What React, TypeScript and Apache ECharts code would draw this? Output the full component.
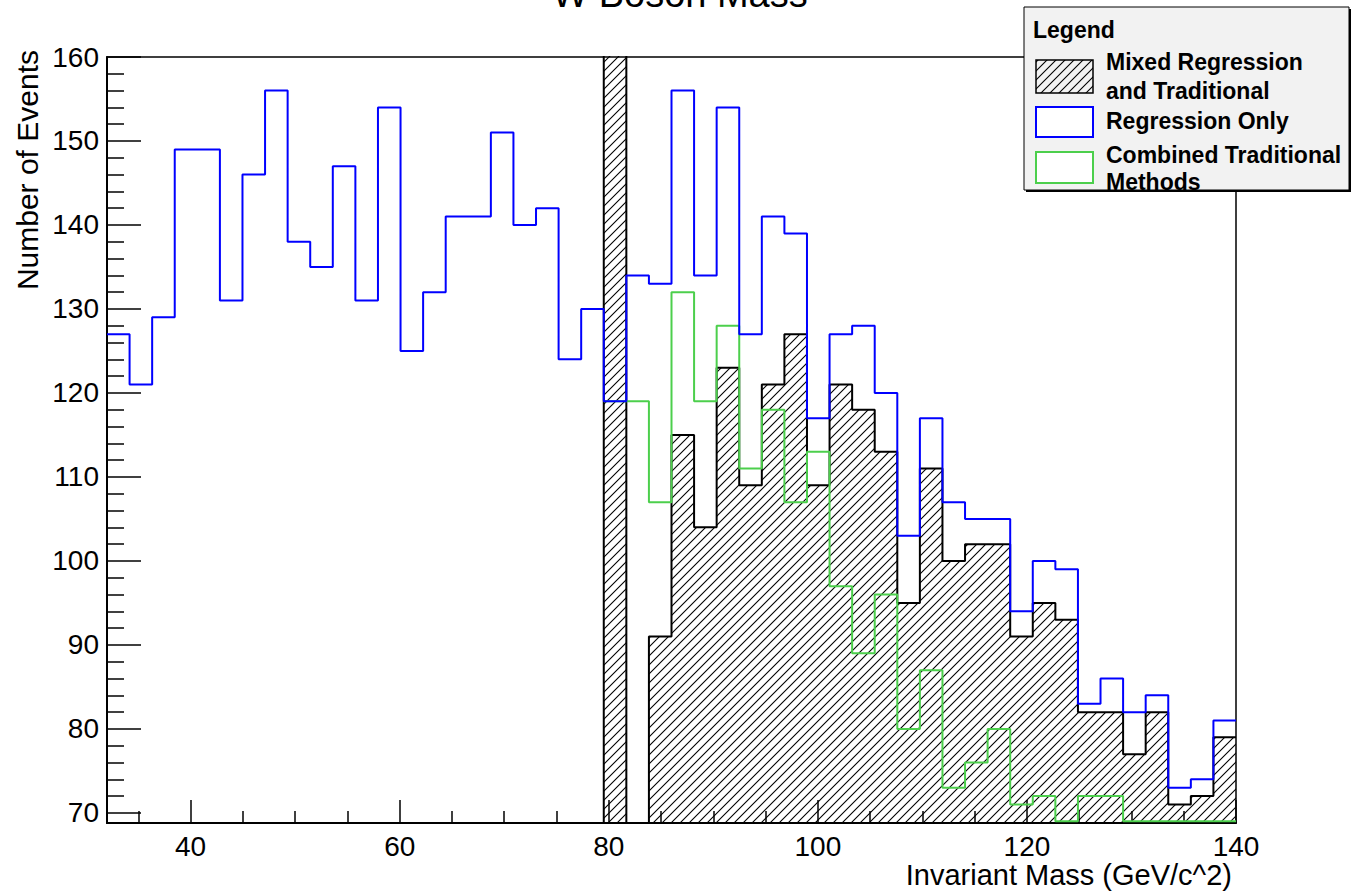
import React, { useEffect, useRef } from "react";
import * as echarts from "echarts";

// Histogram binning (50 bins from 32 to 140 GeV/c^2)
const X_MIN = 32;
const X_MAX = 140;
const N_BINS = 50;
const Y_MIN = 68.8;
const Y_MAX = 160;

// Bin contents
const mixedRegressionTraditional: number[] = [
  0, 0, 0, 0, 0, 0, 0, 0, 0, 0,
  0, 0, 0, 0, 0, 0, 0, 0, 0, 0,
  0, 0, 320, 0, 91, 115, 104, 123, 109, 121,
  127, 109, 121, 118, 113, 95, 111, 100, 102, 102,
  91, 95, 93, 82, 82, 77, 82, 71, 72, 79,
];

const regressionOnly: number[] = [
  127, 121, 129, 149, 149, 131, 146, 156, 138, 135,
  147, 131, 154, 125, 132, 141, 141, 151, 140, 142,
  124, 130, 119, 134, 133, 156, 134, 154, 127, 141,
  139, 117, 127, 128, 120, 103, 117, 107, 105, 105,
  94, 100, 99, 83, 86, 82, 84, 73, 74, 81,
];

const combinedTraditional: (number | null)[] = [
  null, null, null, null, null, null, null, null, null, null,
  null, null, null, null, null, null, null, null, null, null,
  null, null, 119, 119, 107, 132, 119, 128, 111, 118,
  107, 113, 97, 89, 96, 80, 87, 73, 76, 80,
  71, 72, 69, 72, 72, 69, 69, 69, 69, 69,
];

// Tick values
const xMajorTicks = [40, 60, 80, 100, 120, 140];
const xMinorTicks = [35, 45, 50, 55, 65, 70, 75, 85, 90, 95, 105, 110, 115, 125, 130, 135];
const yMajorTicks = [70, 80, 90, 100, 110, 120, 130, 140, 150, 160];
const yMinorTicks = [
  72, 74, 76, 78, 82, 84, 86, 88, 92, 94, 96, 98, 102, 104, 106, 108,
  112, 114, 116, 118, 122, 124, 126, 128, 132, 134, 136, 138, 142, 144,
  146, 148, 152, 154, 156, 158,
];

const TITLE = "W Boson Mass";
const X_TITLE = "Invariant Mass (GeV/c^2)";
const Y_TITLE = "Number of Events";
const LEGEND_TITLE = "Legend";

const BLUE = "#0000ff";
const GREEN = "#4ccf4c";
const FONT = "'Liberation Sans', Arial, Helvetica, sans-serif";

function stepData(values: (number | null)[]) {
  const bw = (X_MAX - X_MIN) / N_BINS;
  const pts: [number, number][] = [];
  let last: number | null = null;
  values.forEach((v, i) => {
    if (v === null) return;
    pts.push([X_MIN + i * bw, v]);
    last = v;
  });
  if (last !== null) pts.push([X_MAX, last]);
  return pts;
}

function makeHatch() {
  const size = 9;
  const c = document.createElement("canvas");
  c.width = size;
  c.height = size;
  const ctx = c.getContext("2d")!;
  ctx.strokeStyle = "#000";
  ctx.lineWidth = 1.1;
  ctx.beginPath();
  ctx.moveTo(-1, size + 1);
  ctx.lineTo(size + 1, -1);
  ctx.moveTo(-1, 1);
  ctx.lineTo(1, -1);
  ctx.moveTo(size - 1, size + 1);
  ctx.lineTo(size + 1, size - 1);
  ctx.stroke();
  return { image: c, repeat: "repeat", imageWidth: size, imageHeight: size } as any;
}

function txt(text: string, x: number, y: number, font: string, align = "left", extra: any = {}) {
  return {
    type: "text",
    x,
    y,
    z: 100,
    ...extra,
    style: {
      text,
      font,
      fill: "#000",
      textAlign: align,
      textVerticalAlign: "middle",
    },
  };
}

export default function App() {
  const ref = useRef<HTMLDivElement>(null);

  useEffect(() => {
    if (!ref.current) return;
    const chart = echarts.init(ref.current, null, { renderer: "svg" });
    const hatch = makeHatch();
    const hatch2 = makeHatch();

    const option: any = {
      animation: false,
      backgroundColor: "#ffffff",
      grid: {
        left: 107,
        top: 57,
        width: 1129,
        height: 766,
        show: true,
        borderColor: "#000",
        borderWidth: 1.5,
        backgroundColor: "transparent",
      },
      xAxis: [
        {
          type: "value",
          min: X_MIN,
          max: X_MAX,
          position: "bottom",
          axisLine: { show: true, onZero: false, lineStyle: { color: "#000", width: 2 } },
          axisTick: {
            show: true,
            inside: true,
            length: 23,
            customValues: xMajorTicks,
            lineStyle: { color: "#000", width: 1.5 },
          },
          axisLabel: {
            show: true,
            customValues: xMajorTicks,
            fontSize: 28,
            lineHeight: 28,
            fontFamily: FONT,
            color: "#000",
            margin: 9,
          },
          splitLine: { show: false },
        },
        {
          type: "value",
          min: X_MIN,
          max: X_MAX,
          position: "bottom",
          axisLine: { show: false },
          axisTick: {
            show: true,
            inside: true,
            length: 12,
            customValues: xMinorTicks,
            lineStyle: { color: "#000", width: 1.5 },
          },
          axisLabel: { show: false },
          splitLine: { show: false },
        },
      ],
      yAxis: [
        {
          type: "value",
          min: Y_MIN,
          max: Y_MAX,
          position: "left",
          axisLine: { show: true, onZero: false, lineStyle: { color: "#000", width: 2 } },
          axisTick: {
            show: true,
            inside: true,
            length: 34,
            customValues: yMajorTicks,
            lineStyle: { color: "#000", width: 1.5 },
          },
          axisLabel: {
            show: true,
            customValues: yMajorTicks,
            fontSize: 28,
            lineHeight: 28,
            fontFamily: FONT,
            color: "#000",
            margin: 8,
          },
          splitLine: { show: false },
        },
        {
          type: "value",
          min: Y_MIN,
          max: Y_MAX,
          position: "left",
          axisLine: { show: false },
          axisTick: {
            show: true,
            inside: true,
            length: 17,
            customValues: yMinorTicks,
            lineStyle: { color: "#000", width: 1.5 },
          },
          axisLabel: { show: false },
          splitLine: { show: false },
        },
      ],
      series: [
        {
          name: "Mixed Regression and Traditional",
          type: "line",
          step: "end",
          symbol: "none",
          silent: true,
          clip: true,
          xAxisIndex: 0,
          yAxisIndex: 0,
          data: stepData(mixedRegressionTraditional),
          lineStyle: { color: "#000", width: 2 },
          areaStyle: { color: hatch, opacity: 1, origin: "start" },
          z: 2,
        },
        {
          name: "Combined Traditional Methods",
          type: "line",
          step: "end",
          symbol: "none",
          silent: true,
          clip: true,
          xAxisIndex: 0,
          yAxisIndex: 0,
          data: stepData(combinedTraditional),
          lineStyle: { color: GREEN, width: 2 },
          z: 3,
        },
        {
          name: "Regression Only",
          type: "line",
          step: "end",
          symbol: "none",
          silent: true,
          clip: true,
          xAxisIndex: 0,
          yAxisIndex: 0,
          data: stepData(regressionOnly),
          lineStyle: { color: BLUE, width: 2 },
          z: 4,
        },
      ],
      graphic: [
        txt(TITLE, 680, -6, `38px ${FONT}`, "center"),
        txt(X_TITLE, 1232, 875, `29px ${FONT}`, "right"),
        txt(Y_TITLE, 27, 50, `30px ${FONT}`, "right", { rotation: Math.PI / 2 }),
        {
          type: "rect",
          z: 100,
          shape: { x: 1026, y: 9, width: 325, height: 183 },
          style: { fill: "#000" },
        },
        {
          type: "rect",
          z: 100,
          shape: { x: 1024, y: 7, width: 325, height: 183 },
          style: { fill: "#f2f2f2", stroke: "#000", lineWidth: 1 },
        },
        txt(LEGEND_TITLE, 1033, 30, `bold 23px ${FONT}`),
        {
          type: "rect",
          z: 101,
          shape: { x: 1036, y: 60, width: 57, height: 33 },
          style: { fill: hatch2, stroke: "#000", lineWidth: 1.5 },
        },
        txt("Mixed Regression", 1106, 62, `bold 23px ${FONT}`),
        txt("and Traditional", 1106, 91, `bold 23px ${FONT}`),
        {
          type: "rect",
          z: 101,
          shape: { x: 1036, y: 107, width: 57, height: 30 },
          style: { fill: "#fff", stroke: BLUE, lineWidth: 2 },
        },
        txt("Regression Only", 1106, 121, `bold 23px ${FONT}`),
        {
          type: "rect",
          z: 101,
          shape: { x: 1036, y: 152, width: 57, height: 31 },
          style: { fill: "#fff", stroke: GREEN, lineWidth: 2 },
        },
        txt("Combined Traditional", 1106, 155, `bold 23px ${FONT}`),
        txt("Methods", 1106, 182, `bold 23px ${FONT}`),
      ],
    };

    chart.setOption(option);
    return () => {
      chart.dispose();
    };
  }, []);

  return (
    <div
      ref={ref}
      style={{ position: "absolute", left: 0, top: 0, width: 1358, height: 893 }}
    />
  );
}
